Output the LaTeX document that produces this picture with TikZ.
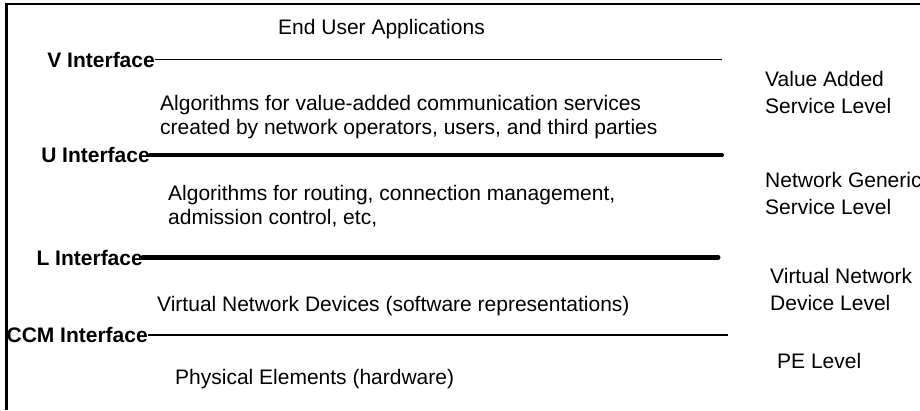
\documentclass[tikz,border=0pt]{standalone}
\usepackage{fontspec}
\setmainfont{Liberation Sans}
\usetikzlibrary{positioning}

\begin{document}
\begin{tikzpicture}[x=1pt,y=-1pt,
    iface node/.style={font=\fontsize{21}{24}\selectfont\bfseries,inner sep=0pt,anchor=east},
    text node/.style={font=\fontsize{21}{24}\selectfont,inner sep=0pt,anchor=west,align=left},
    level node/.style={font=\fontsize{21}{27}\selectfont,inner sep=0pt,anchor=west,align=left},
    thin line/.style={line width=1.2pt},
    thick line/.style={line width=4pt,line cap=round}]
  \useasboundingbox (0,0) rectangle (920,410);
  % frame
  \draw[line width=2.5pt] (6.5,410) -- (6.5,4) -- (920,4);
  % interfaces
  \node[iface node] (v) at (155,59.5) {V Interface};
  \node[iface node] (u) at (150,155) {U Interface};
  \node[iface node] (l) at (143,257.5) {L Interface};
  \node[iface node] (ccm) at (148,335) {CCM Interface};
  \coordinate (vend) at (722,59.5);
  \coordinate (uend) at (722,155);
  \coordinate (lend) at (718,257.5);
  \coordinate (ccmend) at (728,335);
  \path[-,thin line] (v) edge (vend);
  \path[-,thick line] (u.east) edge (uend);
  \path[-,thick line,line width=5pt] (l.east) edge (lend);
  \path[-,thin line] (ccm) edge (ccmend);
  % layer contents
  \node[text node] (apps) at (278,29) {End User Applications};
  \node[text node] (vas) at (160,117.5) {Algorithms for value-added communication services\\created by network operators, users, and third parties};
  \node[text node] (ngs) at (168,206) {Algorithms for routing, connection management,\\admission control, etc,};
  \node[text node] (vnd) at (157,306) {Virtual Network Devices (software representations)};
  \node[text node] (pe) at (175,379) {Physical Elements (hardware)};
  % levels
  \node[level node] (vaslevel) at (765,92.5) {Value Added\\Service Level};
  \node[level node] (ngslevel) at (765,193.5) {Network Generic\\Service Level};
  \node[level node] (vndlevel) at (770,289) {Virtual Network\\Device Level};
  \node[level node] (pelevel) at (777,361) {PE Level};
\end{tikzpicture}
\end{document}
